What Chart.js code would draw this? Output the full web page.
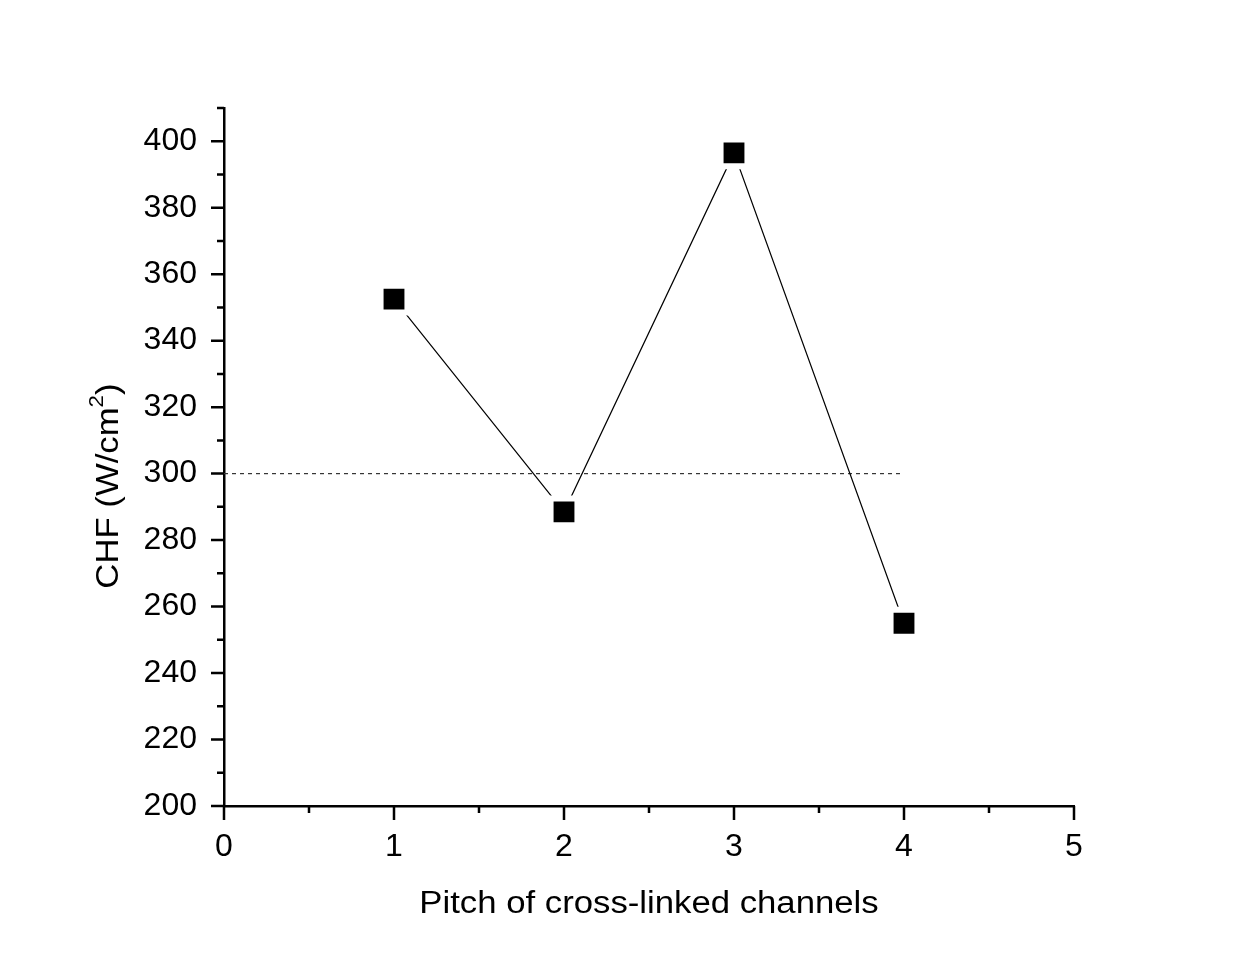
<!DOCTYPE html>
<html>
<head>
<meta charset="utf-8">
<script src="https://cdn.jsdelivr.net/npm/chart.js@4/dist/chart.umd.min.js"></script>
<style>
  html, body { margin: 0; padding: 0; background: #fff; }
  canvas { display: block; }
</style>
</head>
<body>
<canvas id="chfChart" width="1247" height="968"></canvas>
<script>
// CHF against pitch of the cross-linked channels
var pitch = [1, 2, 3, 4];
var chf = [352.5, 288.5, 396.5, 255];
var refX = [0, 4];
var refY = [300, 300];
var xTickValues = [0, 1, 2, 3, 4, 5];
var yTickValues = [200, 220, 240, 260, 280, 300, 320, 340, 360, 380, 400];
var xTitle = 'Pitch of cross-linked channels';
var yTitle = ['CHF (W/cm', '2', ')'];

var FONT = 'Liberation Sans, Arial, sans-serif';
var TITLE_SIZE = 31;
var TITLE_STRETCH = 1.12;

// Origin-style ticks: long ones at labels, short ones halfway between
var tickPlugin = {
  id: 'originTicks',
  afterDraw: function (chart) {
    var ctx = chart.ctx;
    var xs = chart.scales.x, ys = chart.scales.y;
    var area = chart.chartArea;
    ctx.save();
    ctx.strokeStyle = '#000';
    ctx.lineWidth = 2.5;
    ctx.lineCap = 'butt';
    ctx.beginPath();
    yTickValues.forEach(function (v) {
      var py = ys.getPixelForValue(v);
      ctx.moveTo(area.left, py); ctx.lineTo(area.left - 13, py);
    });
    for (var v = 210; v <= ys.max; v += 20) {
      var py = ys.getPixelForValue(v);
      ctx.moveTo(area.left, py); ctx.lineTo(area.left - 7, py);
    }
    xTickValues.forEach(function (v) {
      var px = xs.getPixelForValue(v);
      ctx.moveTo(px, area.bottom); ctx.lineTo(px, area.bottom + 14);
    });
    for (var u = 0.5; u < xs.max; u += 1) {
      var px = xs.getPixelForValue(u);
      ctx.moveTo(px, area.bottom); ctx.lineTo(px, area.bottom + 7);
    }
    ctx.stroke();
    ctx.restore();

    // axis titles, a little wider than the plain font
    ctx.save();
    ctx.fillStyle = '#000';
    ctx.textBaseline = 'alphabetic';
    ctx.font = TITLE_SIZE + 'px ' + FONT;
    ctx.save();
    ctx.translate((area.left + area.right) / 2, 913);
    ctx.scale(TITLE_STRETCH, 1);
    ctx.textAlign = 'center';
    ctx.fillText(xTitle, 0, 0);
    ctx.restore();

    // y title with a raised superscript
    var supFont = Math.round(TITLE_SIZE * 0.66) + 'px ' + FONT;
    var w1 = ctx.measureText(yTitle[0]).width;
    var w3 = ctx.measureText(yTitle[2]).width;
    ctx.font = supFont;
    var w2 = ctx.measureText(yTitle[1]).width;
    var x0 = -(w1 + w2 + w3) / 2;
    ctx.translate(118, 486);
    ctx.rotate(-Math.PI / 2);
    ctx.scale(TITLE_STRETCH, 1);
    ctx.textAlign = 'left';
    ctx.font = TITLE_SIZE + 'px ' + FONT;
    ctx.fillText(yTitle[0], x0, 0);
    ctx.fillText(yTitle[2], x0 + w1 + w2, 0);
    ctx.font = supFont;
    ctx.fillText(yTitle[1], x0 + w1, -15);
    ctx.restore();
  }
};

new Chart(document.getElementById('chfChart').getContext('2d'), {
  type: 'scatter',
  data: {
    datasets: [{
      data: pitch.map(function (p, i) { return { x: p, y: chf[i] }; }),
      showLine: true,
      borderColor: '#000',
      borderWidth: 1.2,
      pointStyle: 'rect',
      pointRadius: 19,
      pointBackgroundColor: '#000',
      pointBorderColor: '#fff',
      pointBorderWidth: 6,
      order: 1
    }, {
      data: refX.map(function (x, i) { return { x: x, y: refY[i] }; }),
      showLine: true,
      borderColor: '#333',
      borderWidth: 1.2,
      borderDash: [4, 4],
      pointRadius: 0,
      order: 2
    }]
  },
  options: {
    responsive: false,
    animation: false,
    events: [],
    layout: { padding: { left: 0, top: 108, right: 173, bottom: 0 } },
    plugins: { legend: { display: false }, tooltip: { enabled: false } },
    scales: {
      x: {
        type: 'linear',
        min: 0,
        max: 5,
        afterFit: function (s) { s.height = 162; },
        afterBuildTicks: function (s) { s.ticks = xTickValues.map(function (v) { return { value: v }; }); },
        grid: { drawOnChartArea: false, drawTicks: false },
        border: { color: '#000', width: 2.5 },
        ticks: { color: '#000', padding: 22, font: { family: FONT, size: 32 } }
      },
      y: {
        type: 'linear',
        min: 200,
        max: 410,
        afterFit: function (s) { s.width = 224; },
        afterBuildTicks: function (s) { s.ticks = yTickValues.map(function (v) { return { value: v }; }); },
        grid: { drawOnChartArea: false, drawTicks: false },
        border: { color: '#000', width: 2.5 },
        ticks: { color: '#000', padding: 27, font: { family: FONT, size: 32 } }
      }
    }
  },
  plugins: [tickPlugin]
});
</script>
</body>
</html>
